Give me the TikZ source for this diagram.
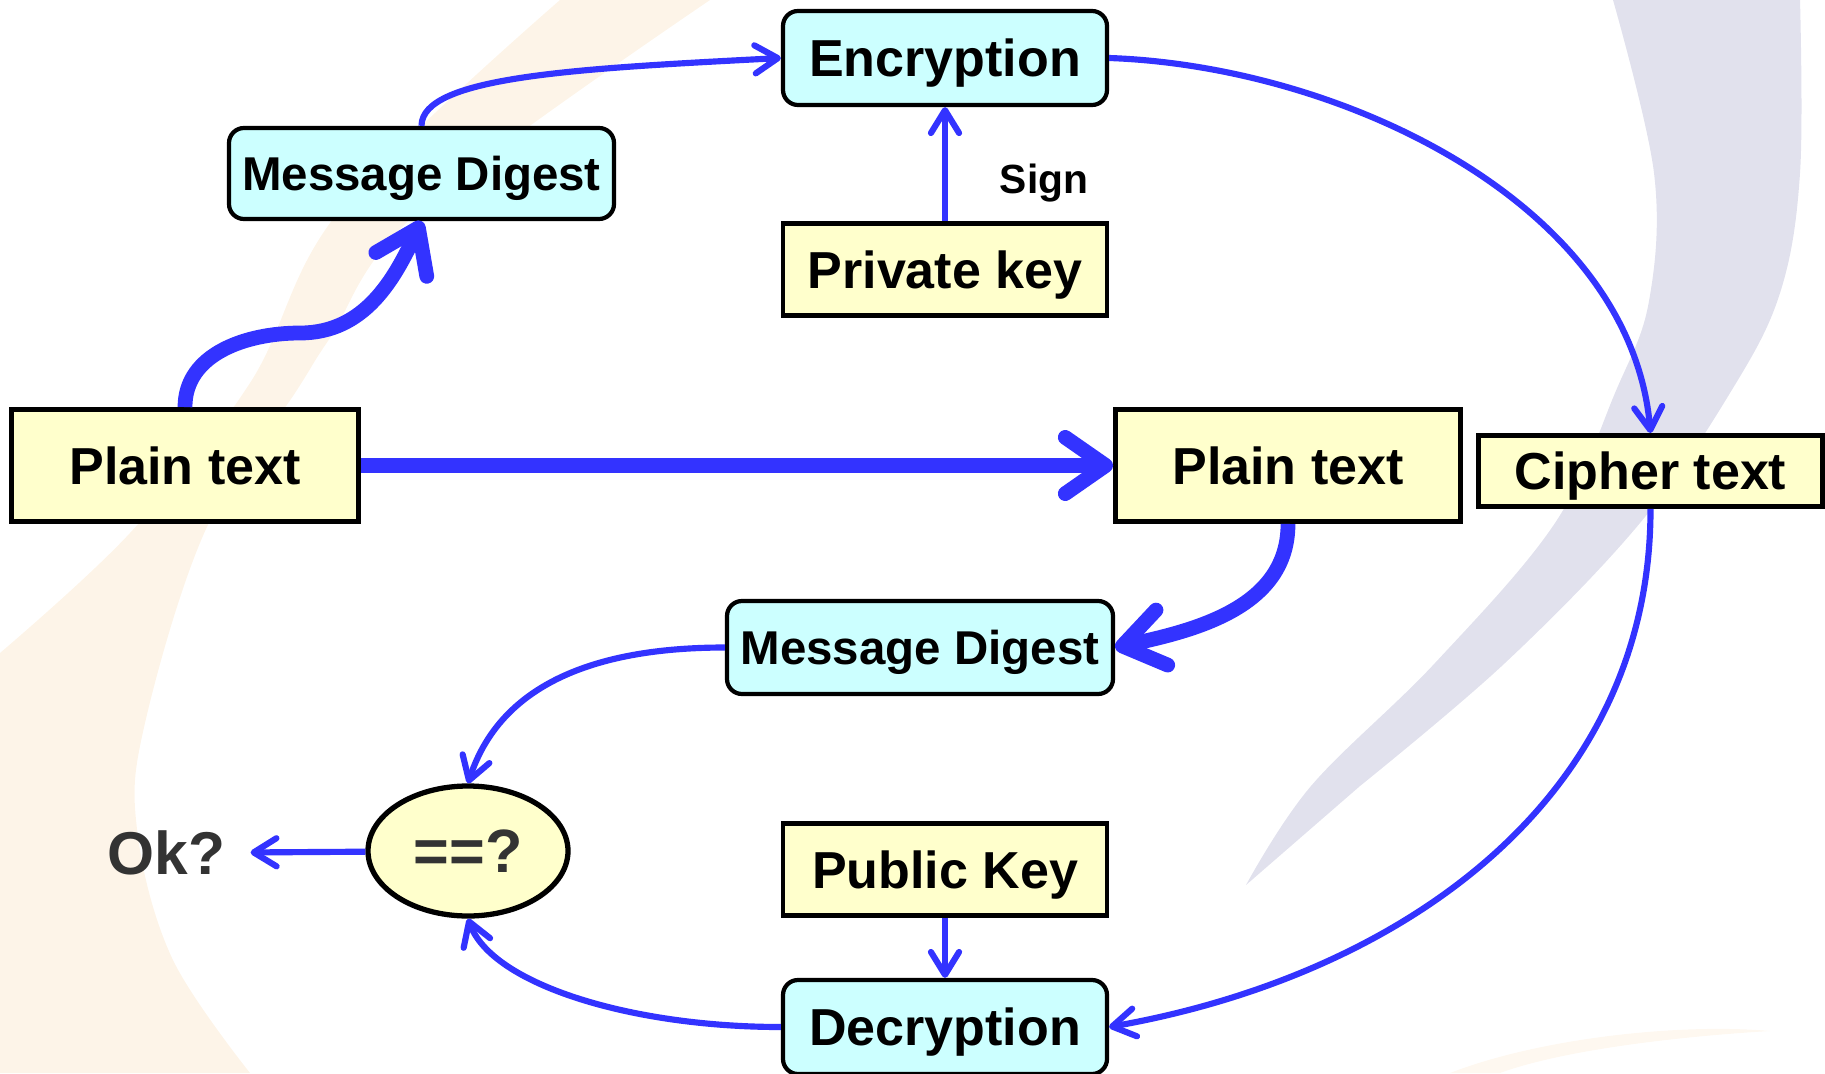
\documentclass[tikz,border=0pt]{standalone}
\usepackage{fontspec}
\setmainfont{Liberation Sans}
\usetikzlibrary{arrows.meta,shapes.geometric}

\definecolor{boxyellow}{RGB}{255,255,204}
\definecolor{boxcyan}{RGB}{204,255,255}
\definecolor{flowblue}{RGB}{51,51,255}
\definecolor{swooshbeige}{RGB}{253,244,232}
\definecolor{swooshpale}{RGB}{254,248,240}
\definecolor{swooshgray}{RGB}{225,225,237}
\definecolor{okgray}{RGB}{51,51,51}

\begin{document}
\begin{tikzpicture}

\tikzstyle{keybox} = [rectangle, draw, line width=1.4pt, fill=boxyellow, text centered, inner sep=0pt, minimum width=3.24cm, minimum height=0.92cm, font=\fontsize{14.8}{17}\selectfont\bfseries, text height=10.6pt, text depth=0pt]
\tikzstyle{stepbox} = [rectangle, rounded corners=0.15cm, draw, line width=1.2pt, fill=boxcyan, text centered, inner sep=0pt, minimum width=3.24cm, minimum height=0.94cm, font=\fontsize{14.8}{17}\selectfont\bfseries, text height=10.6pt, text depth=0pt]
\tikzstyle{digestbox} = [stepbox, minimum width=3.85cm, minimum height=0.91cm, font=\fontsize{13.5}{16}\selectfont\bfseries, text height=9.7pt]
\tikzstyle{thinarrow} = [draw=flowblue, line width=1.75pt, -{Straight Barb[length=6.5pt,width=8pt,round]}]
\tikzstyle{thickarrow} = [draw=flowblue, line width=4.2pt, -{Straight Barb[length=11.5pt,width=16pt,round]}]

\useasboundingbox (0,0) rectangle (18.25,10.73);

% Background swooshes
\fill [swooshbeige] plot [smooth, tension=0.6] coordinates {(5.6,10.73) (3.4,8.63) (2.5,6.9) (1.3,5.4) (0,4.2)} -- (0,0) -- plot [smooth, tension=0.6] coordinates {(2.5,0) (1.72,1.15) (1.37,2.44) (1.45,3.5) (2.06,5.44) (2.95,6.8) (3.3,7.35) (4.2,8.63) (7.1,10.73)} -- cycle;
\fill [swooshpale] (14.5,0) .. controls (15.4,0.35) and (16.8,0.5) .. (17.7,0.42) .. controls (16.7,0.36) and (15.6,0.22) .. (15.0,0) -- cycle;
\fill [swooshgray] plot [smooth, tension=0.6] coordinates {(16.13,10.73) (16.54,9.0) (16.49,7.72) (16.15,6.8) (15.55,5.5) (14.35,4.1) (13.11,2.87) (12.46,1.88)} -- plot [smooth, tension=0.6] coordinates {(13.6,2.87) (15.05,4.1) (16.4,5.5) (17.3,6.8) (17.8,7.8) (18.0,9.0) (18.0,10.73)} -- cycle;

% Signing side
\node (enc) [stepbox] at (9.45,10.15) {Encryption};
\node (digest1) [digestbox] at (4.215,8.995) {Message Digest};
\node (privkey) [keybox] at (9.45,8.035) {Private key};
\node (sign) [font=\fontsize{11.6}{14}\selectfont\bfseries] at (10.44,8.90) {Sign};
\node (plain1) [keybox, minimum width=3.47cm, minimum height=1.12cm] at (1.85,6.075) {Plain text};
\node (plain2) [keybox, minimum width=3.45cm, minimum height=1.12cm] at (12.88,6.075) {Plain text};
\node (cipher) [keybox, minimum width=3.44cm, minimum height=0.71cm] at (16.505,6.02) {Cipher text};

% Verifying side
\node (digest2) [digestbox, minimum width=3.86cm, minimum height=0.93cm] at (9.20,4.255) {Message Digest};
\node (compare) [ellipse, draw, line width=1.5pt, fill=boxyellow, minimum width=2.0cm, minimum height=1.30cm, inner sep=0pt, text=okgray, font=\fontsize{17.4}{20}\selectfont\bfseries, text height=12.5pt, text depth=0pt] at (4.68,2.22) {==?};
\node (ok) [inner sep=0pt, text=okgray, font=\fontsize{17.2}{20}\selectfont\bfseries, text height=12.3pt, text depth=0pt] at (1.665,2.20) {Ok?};
\node (pubkey) [keybox] at (9.45,2.035) {Public Key};
\node (dec) [stepbox] at (9.45,0.46) {Decryption};

% Paths for signing
\coordinate (hump) at (3.0,7.40);
\draw [thickarrow] (plain1.north) to[out=90,in=180] (hump) to[out=0,in=-115] (digest1.south);
\draw [thinarrow] (digest1.north) to[out=90,in=183,out distance=0.5cm,in distance=2cm] (enc.west);
\draw [thinarrow] (privkey) -- (enc);
\draw [thinarrow] (enc.east) to[out=-2,in=95,looseness=0.9] (cipher.north);
\draw [thickarrow] (plain1) -- (plain2);

% Paths for verifying
\draw [thickarrow] (plain2.south) to[out=-90,in=12] (digest2.east);
\draw [thinarrow] (cipher.south) to[out=-90,in=10] (dec.east);
\draw [thinarrow] (pubkey) -- (dec);
\draw [thinarrow] (digest2.west) to[out=180,in=72] (compare.north);
\draw [thinarrow] (dec.west) to[out=180,in=-70,out distance=1.5cm,in distance=0.7cm] (compare.south);
\draw [thinarrow, shorten >=7pt] (compare) -- (ok);

\end{tikzpicture}
\end{document}
